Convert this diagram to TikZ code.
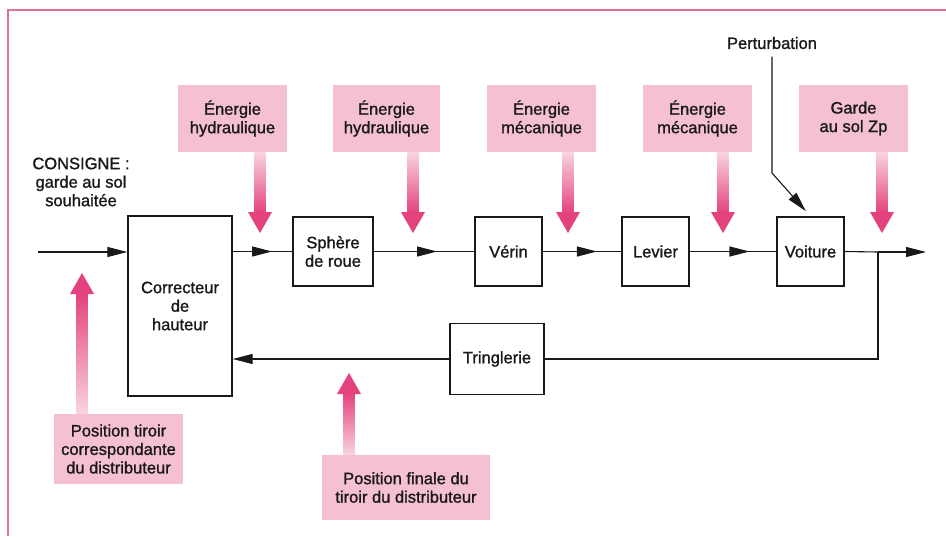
\documentclass[tikz,border=0pt]{standalone}
\usepackage{fontspec}
\setmainfont{Liberation Sans}[FakeBold=1.3]
\usetikzlibrary{arrows.meta,decorations.markings,calc}

\definecolor{pinkbox}{RGB}{245,192,212}
\definecolor{pinkpale}{RGB}{248,212,225}
\definecolor{pinkdeep}{RGB}{228,66,126}
\definecolor{framepink}{RGB}{224,112,150}
\definecolor{ink}{RGB}{25,25,25}

\tikzset{
  txt/.style={font=\fontsize{16.5pt}{18.5pt}\selectfont, align=center, text=ink},
  blk/.style={txt, draw=ink, line width=1.3pt, fill=white, inner sep=0pt},
  tag/.style={txt, fill=pinkbox, inner sep=0pt},
  flow/.style={draw=ink, line width=1.1pt},
  tipend/.style={-{Triangle[length=20pt,width=10pt]}},
  midarrow/.style={postaction={decorate},
    decoration={markings, mark=at position #1 with {\arrow{Triangle[length=20pt,width=10pt]}}}},
}

% shaded pink arrow pointing down, from #1 to the tip #2
\newcommand\flowdown[2]{%
  \shade[top color=pinkpale, bottom color=pinkdeep]
    ($(#1)+(-5.5,0)$) rectangle ($(#2)+(5.5,-20)$);
  \fill[pinkdeep] ($(#2)+(-12,-21)$) -- ($(#2)+(12,-21)$) -- (#2) -- cycle;}
% shaded pink arrow pointing up, from #1 to the tip #2
\newcommand\flowup[2]{%
  \shade[top color=pinkdeep, bottom color=pinkpale]
    ($(#1)+(-5.5,0)$) rectangle ($(#2)+(5.5,20)$);
  \fill[pinkdeep] ($(#2)+(-12,21)$) -- ($(#2)+(12,21)$) -- (#2) -- cycle;}

\begin{document}
\begin{tikzpicture}[x=1pt,y=-1pt]
  \useasboundingbox (0,0) rectangle (946,536);
  \fill[white] (0,0) rectangle (946,536);

  % page frame
  \draw[framepink, line width=2pt] (8,536) -- (8,10) -- (946,10);

  % blocks of the chain
  \node[blk, minimum width=104pt, minimum height=180pt] (corr) at (180,306) {Correcteur\\de\\hauteur};
  \node[blk, minimum width=80pt, minimum height=69pt] (sph) at (333,251.5) {Sphère\\de roue};
  \node[blk, minimum width=67pt, minimum height=69pt] (ver) at (508.5,251.5) {Vérin};
  \node[blk, minimum width=67pt, minimum height=69pt] (lev) at (655.5,251.5) {Levier};
  \node[blk, minimum width=67pt, minimum height=69pt] (voit) at (810.5,251.5) {Voiture};
  \node[blk, minimum width=94pt, minimum height=71pt] (tring) at (497,359) {Tringlerie};

  % labels
  \node[txt] (cons) at (81,182) {CONSIGNE :\\garde au sol\\souhaitée};
  \node[txt] (pert) at (772,43) {Perturbation};

  % pink tags
  \node[tag, minimum width=109pt, minimum height=67pt] (e1) at (232.5,118.5) {Énergie\\hydraulique};
  \node[tag, minimum width=107pt, minimum height=67pt] (e2) at (386.5,118.5) {Énergie\\hydraulique};
  \node[tag, minimum width=109pt, minimum height=67pt] (e3) at (541.5,118.5) {Énergie\\mécanique};
  \node[tag, minimum width=109pt, minimum height=67pt] (e4) at (697.5,118.5) {Énergie\\mécanique};
  \node[tag, minimum width=109pt, minimum height=67pt] (gz) at (853.5,118.5) {Garde\\au sol Zp};
  \node[tag, minimum width=129pt, minimum height=70pt] (pt) at (118.5,449) {Position tiroir\\correspondante\\du distributeur};
  \node[tag, minimum width=168pt, minimum height=65pt] (pf) at (406,487.5) {Position finale du\\tiroir du distributeur};

  % free ends of the main line
  \coordinate (in) at (38,252);
  \coordinate (br) at (878,252);
  \coordinate (out) at (926,252);

  % main chain
  \draw[flow, tipend] (in) -- (in -| corr.west);
  \draw[flow, midarrow=0.66] (corr.east |- sph.west) -- (sph.west);
  \draw[flow, midarrow=0.63] (sph.east) -- (ver.west);
  \draw[flow, midarrow=0.69] (ver.east) -- (lev.west);
  \draw[flow, midarrow=0.69] (lev.east) -- (voit.west);
  \draw[flow] (voit.east) -- (br);
  \draw[flow, tipend] (br) -- (out);

  % feedback loop
  \draw[flow] (br) |- (tring.east);
  \draw[flow, tipend] (tring.west) -- (corr.east |- tring.west);

  % disturbance
  \coordinate (pk) at (772,173);
  \draw[flow, tipend, shorten >=7pt, shorten <=4pt] (pert.south) -- (pk) -- (voit.north);

  % energy and signal inputs
  \coordinate (t1) at (260,233);
  \coordinate (t2) at (413,233);
  \coordinate (t3) at (568,233);
  \coordinate (t4) at (723,233);
  \coordinate (t5) at (882,233);
  \coordinate (u1) at (82,273);
  \coordinate (u2) at (349,373);
  \flowdown{e1.south -| t1}{t1}
  \flowdown{e2.south -| t2}{t2}
  \flowdown{e3.south -| t3}{t3}
  \flowdown{e4.south -| t4}{t4}
  \flowdown{gz.south -| t5}{t5}
  \flowup{pt.north -| u1}{u1}
  \flowup{pf.north -| u2}{u2}
\end{tikzpicture}
\end{document}
